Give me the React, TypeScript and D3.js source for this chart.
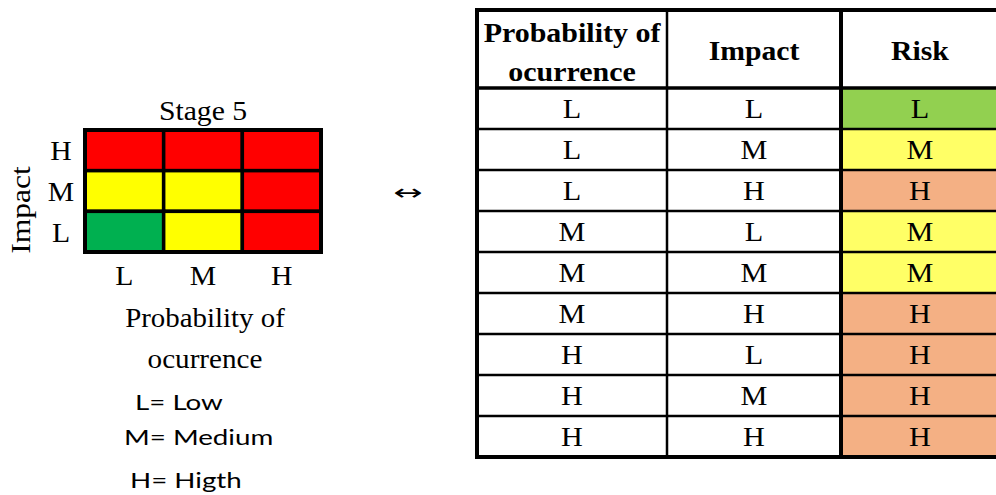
import React from "react";
import * as d3 from "d3";

// heat map: probability on x, impact on y
const levels = ["L", "M", "H"];
const impactLevels = ["H", "M", "L"];
// stage 5 risk colours, rows = impact H, M, L; columns = probability L, M, H
const stageColors = [
  ["#FF0000", "#FF0000", "#FF0000"],
  ["#FFFF00", "#FFFF00", "#FF0000"],
  ["#00B050", "#FFFF00", "#FF0000"],
];

// lookup table
const headers = [["Probability of", "ocurrence"], ["Impact"], ["Risk"]];
const probCol = ["L", "L", "L", "M", "M", "M", "H", "H", "H"];
const impactCol = ["L", "M", "H", "L", "M", "H", "L", "M", "H"];
const riskCol = ["L", "M", "H", "M", "M", "H", "H", "H", "H"];
const riskFill: Record<string, string> = { L: "#92D050", M: "#FFFF66", H: "#F4B084" };

const legend = ["L= Low", "M= Medium", "H= Higth"];

const serif = "'Liberation Serif', 'Times New Roman', serif";
const sans = "Lato, 'Noto Sans', sans-serif";

// text stretched horizontally like the source picture
const T = (props: any) => {
  const { x, y, sx = 1.1, rot = 0, children, ...rest } = props;
  return (
    <text
      transform={`translate(${x},${y}) rotate(${rot}) scale(${sx},1)`}
      fontFamily={serif}
      fontSize={27}
      textAnchor="middle"
      {...rest}
    >
      {children}
    </text>
  );
};

const App = () => {
  const x = d3.scaleBand().domain(levels).range([85, 321]);
  const y = d3.scaleBand().domain(impactLevels).range([130, 252]);

  const rows = d3.scaleBand<number>().domain(d3.range(probCol.length)).range([88, 457]);
  const cols = [477, 667, 841, 1000];
  const colCenters = [572, 754, 920];

  return (
    <svg width={996} height={495} style={{ position: "absolute", left: 0, top: 0, background: "white" }}>
      {/* heat map */}
      <T x={203} y={120}>Stage 5</T>
      {impactLevels.map((imp, r) =>
        levels.map((p, c) => (
          <rect
            key={imp + p}
            x={x(p)}
            y={y(imp)}
            width={x.bandwidth()}
            height={y.bandwidth()}
            fill={stageColors[r][c]}
            stroke="black"
            strokeWidth={3.5}
          />
        ))
      )}
      <rect x={85} y={130} width={236} height={122} fill="none" stroke="black" strokeWidth={4} />
      {impactLevels.map((imp) => (
        <T key={imp} x={61} y={(y(imp) as number) + y.bandwidth() / 2 + 10}>
          {imp}
        </T>
      ))}
      <T x={30} y={210} rot={-90} sx={1.17}>Impact</T>
      {levels.map((p) => (
        <T key={p} x={(x(p) as number) + x.bandwidth() / 2} y={285}>
          {p}
        </T>
      ))}
      <T x={205} y={327} sx={1.07}>Probability of</T>
      <T x={205} y={368} sx={1.08}>ocurrence</T>
      <T x={135} y={410} sx={1.26} fontFamily={sans} fontSize={22} textAnchor="start">{legend[0]}</T>
      <T x={124} y={445} sx={1.26} fontFamily={sans} fontSize={22} textAnchor="start">{legend[1]}</T>
      <T x={130} y={488} sx={1.26} fontFamily={sans} fontSize={22} textAnchor="start">{legend[2]}</T>

      <T x={408} y={200} sx={1.6} fontFamily="'DejaVu Sans', sans-serif" fontSize={22}>↔</T>

      {/* table */}
      {riskCol.map((r, i) => (
        <rect key={i} x={cols[2]} y={rows(i)} width={cols[3] - cols[2]} height={rows.bandwidth()} fill={riskFill[r]} />
      ))}
      {rows.domain().map((i) => (
        <line key={i} x1={cols[0]} x2={cols[3]} y1={rows(i)} y2={rows(i)} stroke="black" strokeWidth={i === 0 ? 3.5 : 2.5} />
      ))}
      <line x1={cols[0]} x2={cols[3]} y1={457} y2={457} stroke="black" strokeWidth={4} />
      <line x1={cols[0] - 2} x2={cols[3]} y1={10} y2={10} stroke="black" strokeWidth={4} />
      <line x1={cols[0]} x2={cols[0]} y1={8} y2={459} stroke="black" strokeWidth={4} />
      <line x1={cols[1]} x2={cols[1]} y1={10} y2={457} stroke="black" strokeWidth={2.5} />
      <line x1={cols[2]} x2={cols[2]} y1={10} y2={457} stroke="black" strokeWidth={4} />

      <T x={colCenters[0]} y={42} fontWeight="bold" sx={1.11}>{headers[0][0]}</T>
      <T x={colCenters[0]} y={81} fontWeight="bold" sx={1.11}>{headers[0][1]}</T>
      <T x={colCenters[1]} y={60} fontWeight="bold">{headers[1][0]}</T>
      <T x={colCenters[2]} y={60} fontWeight="bold">{headers[2][0]}</T>

      {[probCol, impactCol, riskCol].map((col, c) =>
        col.map((v, i) => (
          <T key={c + "-" + i} x={colCenters[c]} y={(rows(i) as number) + rows.bandwidth() / 2 + 9} sx={1.12}>
            {v}
          </T>
        ))
      )}
    </svg>
  );
};

export default App;
